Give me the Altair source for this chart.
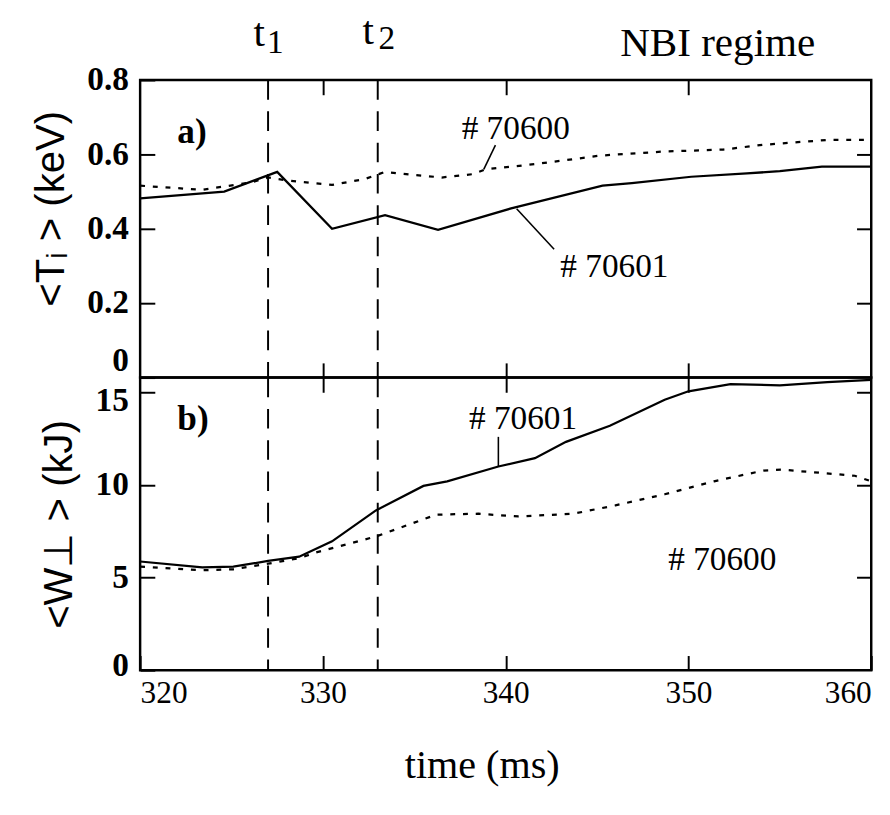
import altair as alt
import pandas as pd

SERIF = "Liberation Serif"
SANS = "Liberation Sans"

# ---------------- data ----------------
# panel a) <Ti> (keV)
time_ti_70601 = [320, 324.6, 327.5, 330.5, 333.4, 336.3, 340.3, 345.3, 346.9, 350.15, 353.2, 355, 357.3, 360]
ti_70601 = [0.482, 0.50, 0.553, 0.40, 0.437, 0.397, 0.455, 0.516, 0.523, 0.540, 0.549, 0.555, 0.567, 0.567]

time_ti_70600 = [320, 323.4, 326, 327, 328.2, 330.5, 332.3, 333.4, 335, 336.5, 338.2, 338.9, 341.6, 345.2, 348.7, 351.9, 354.1, 357.6, 360]
ti_70600 = [0.516, 0.505, 0.524, 0.538, 0.529, 0.518, 0.534, 0.553, 0.545, 0.538, 0.547, 0.56, 0.574, 0.597, 0.608, 0.613, 0.626, 0.639, 0.639]

# panel b) <W_perp> (kJ)
time_w_70601 = [320, 323.4, 325.1, 327, 328.7, 330.5, 332.9, 335.5, 336.8, 339.6, 341.6, 343.3, 345.7, 348.7, 350, 352.3, 355, 357.6, 360]
w_70601 = [5.87, 5.55, 5.59, 5.9, 6.13, 6.96, 8.63, 9.95, 10.2, 11.0, 11.45, 12.33, 13.2, 14.6, 15.06, 15.45, 15.38, 15.55, 15.68]

time_w_70600 = [320, 323.4, 325.1, 327, 328.7, 329.6, 332.9, 336.2, 338.5, 340.7, 343.7, 346, 348.7, 351.4, 354.1, 355.1, 356.7, 359.1, 360]
w_70600 = [5.6, 5.4, 5.45, 5.75, 6.05, 6.35, 7.22, 8.4, 8.45, 8.3, 8.45, 8.9, 9.5, 10.2, 10.78, 10.83, 10.7, 10.5, 10.2]

# marker times t1, t2
marker_times = [327, 333]

# tick values / labels
x_label_values = [320, 330, 340, 350, 360]
x_minor_ticks = [330, 340, 350]
ti_ticks = [0, 0.2, 0.4, 0.6, 0.8]
w_ticks = [0, 5, 10, 15]

# annotations (time, value)
top_labels_text = ["# 70600", "# 70601"]
top_labels_time = [340.55, 345.95]
top_labels_val = [0.668, 0.297]

bot_labels_text = ["# 70601", "# 70600"]
bot_labels_time = [340.95, 351.85]
bot_labels_val = [13.55, 5.95]

top_leader_group = ["a", "a", "b", "b"]
top_leader_time = [339.44, 338.8, 340.6, 342.65]
top_leader_val = [0.625, 0.56, 0.454, 0.345]

bot_leader_group = ["a", "a"]
bot_leader_time = [339.6, 339.6]
bot_leader_val = [12.6, 11.0]

# header texts above panel a)
head_t_time = [326.51, 332.48]
head_t_val = [0.926, 0.930]
head_sub_text = ["1", "2"]
head_sub_time = [327.4, 333.5]
head_sub_val = [0.898, 0.909]
nbi_text = ["NBI regime"]
nbi_time = [351.6]
nbi_val = [0.90]

# ---------------- chart ----------------
W = 747
H_TOP = 304
H_BOT = 299

xscale = alt.Scale(domain=[320, 360], nice=False, zero=False)
ytop = alt.Scale(domain=[0, 0.8], nice=False, zero=False)
ybot = alt.Scale(domain=[0, 15.8], nice=False, zero=False)


def tick_axis(orient, values):
    return alt.Axis(orient=orient, offset=-15, tickSize=15, tickWidth=2, tickColor="black",
                    ticks=True, labels=False, domain=False, grid=False, values=values, title=None)


def rules_layer(yscale):
    df = pd.DataFrame({"time": marker_times})
    return alt.Chart(df).mark_rule(color="black", strokeWidth=2, strokeDash=[20, 12]).encode(
        x=alt.X("time:Q", scale=xscale, axis=None)
    )


def line_layer(times, vals, yscale, dashed, xaxis, yaxis):
    df = pd.DataFrame({"time": times, "v": vals})
    kw = dict(color="black", strokeWidth=2.3)
    if dashed:
        kw["strokeDash"] = [5, 8]
    return alt.Chart(df).mark_line(**kw).encode(
        x=alt.X("time:Q", scale=xscale, axis=xaxis),
        y=alt.Y("v:Q", scale=yscale, axis=yaxis),
    )


def text_layer(texts, times, vals, yscale, size, weight="normal"):
    df = pd.DataFrame({"txt": texts, "time": times, "v": vals})
    return alt.Chart(df).mark_text(font=SERIF, fontSize=size, fontWeight=weight, color="black",
                                   align="center", baseline="middle").encode(
        x=alt.X("time:Q", scale=xscale, axis=None),
        y=alt.Y("v:Q", scale=yscale, axis=None),
        text="txt:N",
    )


def leader_layer(groups, times, vals, yscale):
    df = pd.DataFrame({"g": groups, "time": times, "v": vals})
    return alt.Chart(df).mark_line(color="black", strokeWidth=1.6).encode(
        x=alt.X("time:Q", scale=xscale, axis=None),
        y=alt.Y("v:Q", scale=yscale, axis=None),
        detail="g:N",
    )


top_yaxis = alt.Axis(
    orient="left", offset=-15, tickSize=15, tickWidth=2, tickColor="black", domain=False, grid=False,
    values=ti_ticks, labelExpr="datum.value == 0 ? '0' : format(datum.value, '.1f')",
    labelFont=SERIF, labelFontSize=34, labelFontWeight="bold", labelColor="black", labelPadding=12,
    labelBaseline={"condition": {"test": "datum.value <= 0", "value": "bottom"}, "value": "middle"},
    title="<Tᵢ >   (keV)", titleFont=SANS, titleFontSize=41, titleFontWeight="normal", titleColor="black",
    titlePadding=15, titleY=131,
)

bot_yaxis = alt.Axis(
    orient="left", offset=-15, tickSize=15, tickWidth=2, tickColor="black", domain=False, grid=False,
    values=w_ticks, labelFont=SERIF, labelFontSize=34, labelFontWeight="bold", labelColor="black",
    labelPadding=12,
    labelOffset={"condition": [{"test": "datum.value == 15", "value": 8},
                               {"test": "datum.value == 0", "value": -5}], "value": 0},
    title="<W⊥ >  (kJ)", titleFont=SANS, titleFontSize=41, titleFontWeight="normal", titleColor="black",
    titlePadding=15,
)

bot_xaxis = alt.Axis(
    orient="bottom", offset=-15, tickSize=15, tickWidth=2, tickColor="black", domain=False, grid=False,
    values=x_label_values, labelFont=SERIF, labelFontSize=32, labelColor="black", labelPadding=8,
    labelFlush=True,
    title="time (ms)", titleFont=SERIF, titleFontSize=41, titleFontWeight="normal", titleColor="black",
    titlePadding=39, titleX=349,
)

top = alt.layer(
    line_layer(time_ti_70601, ti_70601, ytop, False, tick_axis("bottom", x_minor_ticks), top_yaxis),
    line_layer(time_ti_70600, ti_70600, ytop, True, tick_axis("top", x_minor_ticks),
               tick_axis("right", [0.2, 0.4, 0.6])),
    rules_layer(ytop),
    leader_layer(top_leader_group, top_leader_time, top_leader_val, ytop),
    text_layer(top_labels_text, top_labels_time, top_labels_val, ytop, 34),
    text_layer(["a)"], [322.84], [0.6605], ytop, 36, "bold"),
    text_layer(["t", "t"], head_t_time, head_t_val, ytop, 42),
    text_layer(head_sub_text, head_sub_time, head_sub_val, ytop, 34),
    text_layer(nbi_text, nbi_time, nbi_val, ytop, 42),
).resolve_axis(x="independent", y="independent").properties(width=W, height=H_TOP)

bottom = alt.layer(
    line_layer(time_w_70601, w_70601, ybot, False, bot_xaxis, bot_yaxis),
    line_layer(time_w_70600, w_70600, ybot, True, tick_axis("top", x_minor_ticks),
               tick_axis("right", [5, 10, 15])),
    rules_layer(ybot),
    leader_layer(bot_leader_group, bot_leader_time, bot_leader_val, ybot),
    text_layer(bot_labels_text, bot_labels_time, bot_labels_val, ybot, 34),
    text_layer(["b)"], [322.89], [13.53], ybot, 36, "bold"),
).resolve_axis(x="independent", y="independent").properties(width=W, height=H_BOT)

chart = alt.vconcat(top, bottom, spacing=0, bounds="flush").properties(
    padding={"left": 22, "top": -7, "right": 5, "bottom": 5},
    background="white",
).configure_view(stroke="black", strokeWidth=2.5)

chart.save("out.html", embed_options={"renderer": "svg", "actions": False})
